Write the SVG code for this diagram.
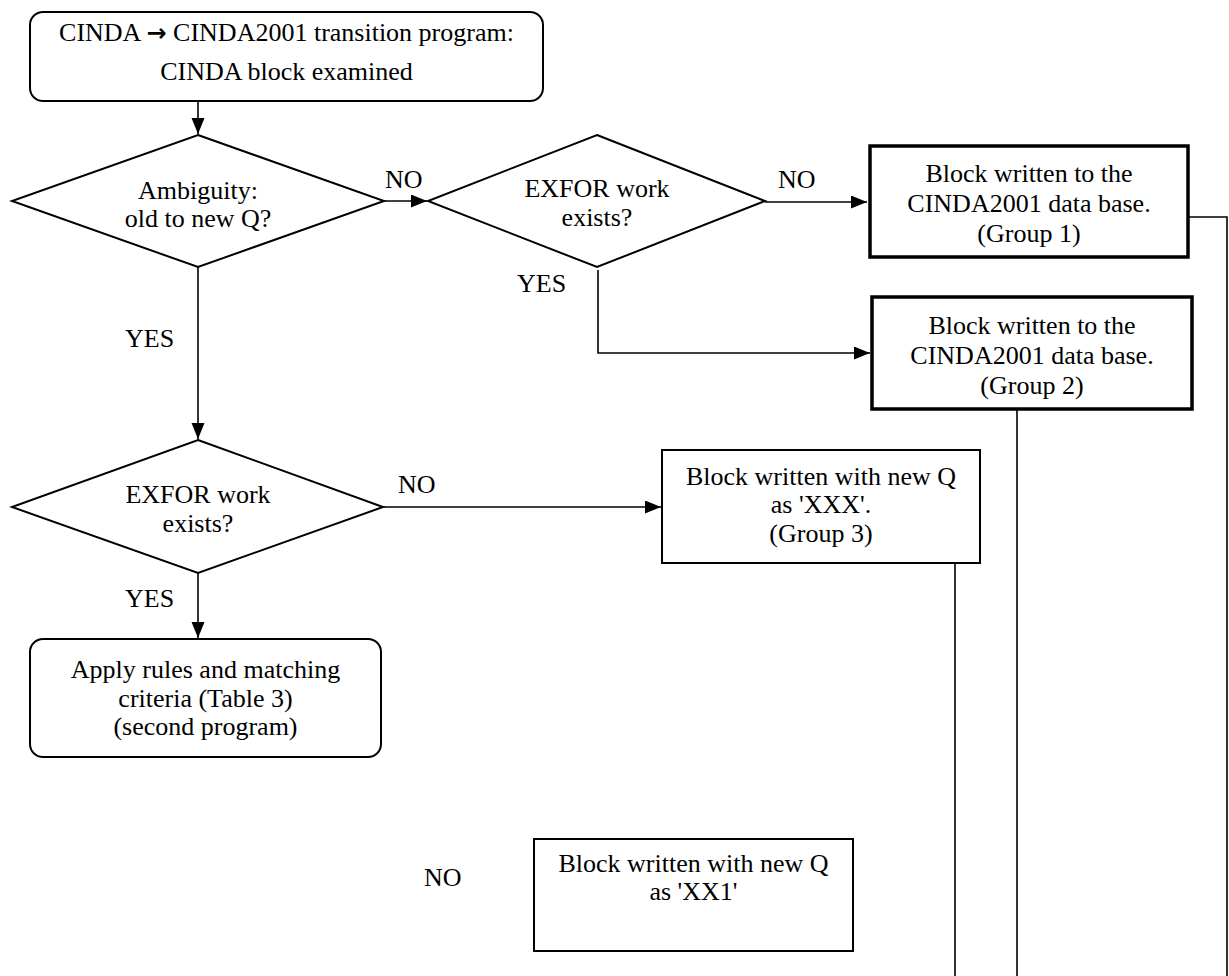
<svg xmlns="http://www.w3.org/2000/svg" width="1229" height="976" viewBox="0 0 1229 976">
<defs>
<style>
text{font-family:"Liberation Serif","Times New Roman",serif;font-size:26px;fill:#000;}
.c{text-anchor:middle;}
.sym{font-family:"DejaVu Sans",sans-serif;font-weight:bold;font-size:24px;}
.node{fill:#fff;stroke:#000;stroke-width:2;}
.thick{fill:#fff;stroke:#000;stroke-width:3.5;}
.conn{fill:none;stroke:#000;stroke-width:1.6;}
</style>
<marker id="ah" markerUnits="userSpaceOnUse" markerWidth="17" markerHeight="14" refX="16" refY="6.5" orient="auto">
<path d="M0,0 L16,6.5 L0,13 z" fill="#000"/>
</marker>
</defs>
<rect width="1229" height="976" fill="#fff"/>

<g id="connectors">
<path class="conn" d="M198,102 V134" marker-end="url(#ah)"/>
<path class="conn" d="M384,201 H427" marker-end="url(#ah)"/>
<path class="conn" d="M765,202 H867" marker-end="url(#ah)"/>
<path class="conn" d="M598,270 V353 H870" marker-end="url(#ah)"/>
<path class="conn" d="M198,267 V439" marker-end="url(#ah)"/>
<path class="conn" d="M383,507 H661" marker-end="url(#ah)"/>
<path class="conn" d="M198,573 V638" marker-end="url(#ah)"/>
<path class="conn" d="M1188,217 H1227 V976"/>
<path class="conn" d="M1017,410 V976"/>
<path class="conn" d="M955,564 V976"/>
</g>

<g id="start">
<rect class="node" x="30" y="12" width="513" height="89" rx="13"/>
<text class="c" x="286.5" y="41">CINDA <tspan class="sym">→</tspan> CINDA2001 transition program:</text>
<text class="c" x="286.5" y="80">CINDA block examined</text>
</g>

<g id="ambiguity">
<polygon class="node" points="198,135 384,201 198,267 12,201"/>
<text class="c" x="198" y="199">Ambiguity:</text>
<text class="c" x="198" y="227">old to new Q?</text>
</g>

<g id="exfor1">
<polygon class="node" points="597,135 765,201 597,267 428,201"/>
<text class="c" x="597" y="197">EXFOR work</text>
<text class="c" x="597" y="226">exists?</text>
</g>

<g id="group1">
<rect class="thick" x="870" y="146" width="318" height="111"/>
<text class="c" x="1029" y="182">Block written to the</text>
<text class="c" x="1029" y="212">CINDA2001 data base.</text>
<text class="c" x="1029" y="242">(Group 1)</text>
</g>

<g id="group2">
<rect class="thick" x="872" y="297" width="320" height="112"/>
<text class="c" x="1032" y="334">Block written to the</text>
<text class="c" x="1032" y="364">CINDA2001 data base.</text>
<text class="c" x="1032" y="394">(Group 2)</text>
</g>

<g id="exfor2">
<polygon class="node" points="198,440 383,507 198,573 12,507"/>
<text class="c" x="198" y="503">EXFOR work</text>
<text class="c" x="198" y="532">exists?</text>
</g>

<g id="group3">
<rect class="node" x="662" y="450" width="318" height="113"/>
<text class="c" x="821" y="485">Block written with new Q</text>
<text class="c" x="821" y="513">as 'XXX'.</text>
<text class="c" x="821" y="542">(Group 3)</text>
</g>

<g id="apply">
<rect class="node" x="30" y="639" width="351" height="118" rx="13"/>
<text class="c" x="205.5" y="678">Apply rules and matching</text>
<text class="c" x="205.5" y="707">criteria (Table 3)</text>
<text class="c" x="205.5" y="735">(second program)</text>
</g>

<g id="xx1">
<rect class="node" x="534" y="839" width="319" height="112"/>
<text class="c" x="693.5" y="872">Block written with new Q</text>
<text class="c" x="693.5" y="900">as 'XX1'</text>
</g>

<g id="labels">
<text x="385" y="188">NO</text>
<text x="517" y="292">YES</text>
<text x="778" y="188">NO</text>
<text x="125" y="347">YES</text>
<text x="398" y="493">NO</text>
<text x="125" y="607">YES</text>
<text x="424" y="886">NO</text>
</g>
</svg>
